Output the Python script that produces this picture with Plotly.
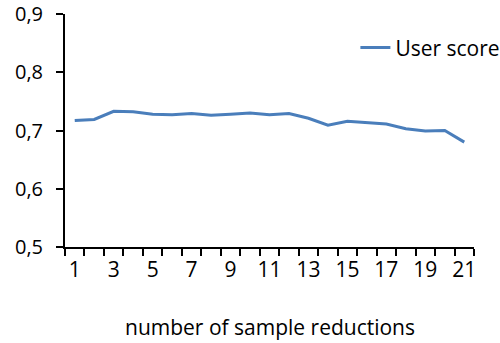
import plotly.graph_objects as go

# Sample reduction steps and the resulting user score
reductions = list(range(1, 22))
user_score = [0.717, 0.719, 0.733, 0.732, 0.728, 0.727, 0.729, 0.726, 0.728, 0.730,
              0.727, 0.729, 0.721, 0.709, 0.716, 0.713, 0.711, 0.703, 0.699, 0.700, 0.680]
x_labels = [str(v) for v in range(1, 22, 2)]
y_ticks = [0.5, 0.6, 0.7, 0.8, 0.9]

FONT = "Open Sans"
BLUE = "#4A7EBB"
SIZE = 21

fig = go.Figure()
fig.add_trace(go.Scatter(
    x=reductions, y=user_score, mode="lines", name="User score",
    line=dict(color=BLUE, width=3),
))
# invisible trace to carry the label axis
fig.add_trace(go.Scatter(x=reductions, y=user_score, xaxis="x2", mode="lines",
                         line=dict(width=0), showlegend=False, hoverinfo="skip"))

fig.update_layout(
    width=500, height=343,
    margin=dict(l=65, r=26, t=14, b=96, autoexpand=False),
    paper_bgcolor="white", plot_bgcolor="white",
    separators=", ",
    font=dict(family=FONT, size=SIZE, color="black"),
    showlegend=True,
    legend=dict(x=0.71, y=0.855, xanchor="left", yanchor="middle",
                bgcolor="rgba(0,0,0,0)", font=dict(size=SIZE),
                itemwidth=30, tracegroupgap=0),
    xaxis=dict(
        range=[0.5, 21.5], tickmode="linear", tick0=0.5, dtick=1,
        showticklabels=False, ticks="outside", ticklen=7, tickwidth=2,
        tickcolor="black", showline=True, linecolor="black", linewidth=2,
        showgrid=False, zeroline=False, automargin=False,
    ),
    xaxis2=dict(
        overlaying="x", matches="x", side="bottom",
        tickmode="array", tickvals=list(range(1, 22, 2)), ticktext=x_labels,
        ticks="", showline=False, showgrid=False, zeroline=False,
        ticklabelstandoff=8, automargin=False,
    ),
    yaxis=dict(
        range=[0.5, 0.9], tickmode="array", tickvals=y_ticks, tickformat=".1f",
        ticks="outside", ticklen=7, tickwidth=2, tickcolor="black",
        showline=True, linecolor="black", linewidth=2,
        showgrid=False, zeroline=False, ticklabelstandoff=9, automargin=False,
        ticklabeloverflow="allow", tickfont=dict(size=20),
    ),
    annotations=[dict(
        text="number of sample reductions", xref="paper", yref="paper",
        x=0.5, y=-0.345, xanchor="center", yanchor="middle", showarrow=False,
        font=dict(size=SIZE),
    )],
)

fig.write_html("out.html")
